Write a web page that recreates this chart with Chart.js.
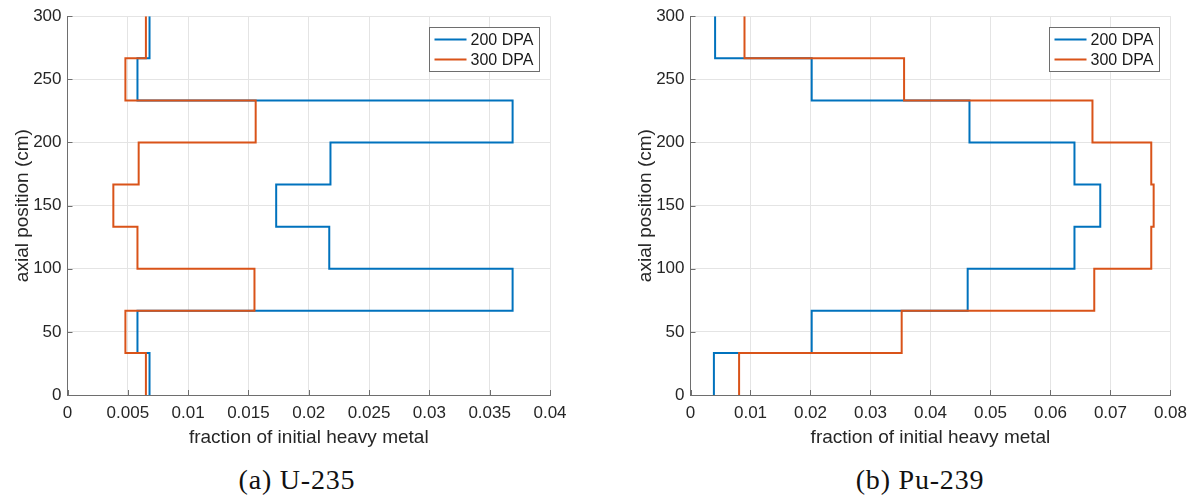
<!DOCTYPE html>
<html>
<head>
<meta charset="utf-8">
<script src="https://cdn.jsdelivr.net/npm/chart.js@4/dist/chart.umd.min.js"></script>
<style>
  body { margin: 0; background: #fff; width: 1195px; height: 498px; overflow: hidden; position: relative; }
  .panel { position: absolute; top: 0; height: 460px; }
  .caption {
    position: absolute; top: 463px; width: 240px; height: 34px; line-height: 34px;
    text-align: center; font-family: "Liberation Serif", "DejaVu Serif", serif;
    font-size: 28px; letter-spacing: 0.8px; color: #111;
  }
</style>
</head>
<body>
<div class="panel" style="left:0;width:600px"><canvas id="u235"></canvas></div>
<div class="panel" style="left:600px;width:595px"><canvas id="pu239"></canvas></div>
<div class="caption" style="left:177px">(a) U-235</div>
<div class="caption" style="left:800px">(b) Pu-239</div>

<script>
// zone boundaries along the core (cm), 9 axial zones
const zoneEdges = [0, 33.3, 66.7, 100, 133.3, 166.7, 200, 233.3, 266.7, 300]

// U-235 fraction per zone, bottom to top
const u235_200 = [0.0068, 0.0058, 0.0369, 0.0217, 0.0173, 0.0218, 0.0369, 0.0058, 0.0068]
const u235_300 = [0.0065, 0.0048, 0.0155, 0.0058, 0.0038, 0.0059, 0.0156, 0.0048, 0.0065]

// Pu-239 fraction per zone, bottom to top
const pu239_200 = [0.0039, 0.0202, 0.0462, 0.0640, 0.0683, 0.0640, 0.0465, 0.0202, 0.0041]
const pu239_300 = [0.0081, 0.0352, 0.0673, 0.0768, 0.0772, 0.0768, 0.0670, 0.0356, 0.0090]

const seriesLabels = ['200 DPA', '300 DPA']
const u235Ticks = { max: 0.04, step: 0.005 }
const pu239Ticks = { max: 0.08, step: 0.01 }

const BLUE = '#0072BD'
const ORANGE = '#D95319'
const SANS = '"Liberation Sans", Arial, Helvetica, sans-serif'

// turn per-zone values into a vertical staircase
function profile(values) {
  let pts = []
  values.forEach((v, i) => {
    pts.push({x: v, y: zoneEdges[i]})
    pts.push({x: v, y: zoneEdges[i + 1]})
  })
  return pts
}

// inward tick marks on left + bottom axes
const innerTicks = {
  id: 'innerTicks',
  afterDatasetsDraw(chart) {
    const {ctx, chartArea, scales} = chart
    ctx.save()
    ctx.strokeStyle = '#6e6e6e'
    ctx.lineWidth = 1
    ctx.beginPath()
    scales.x.ticks.forEach(t => {
      const px = Math.round(scales.x.getPixelForValue(t.value)) + 0.5
      ctx.moveTo(px, chartArea.bottom)
      ctx.lineTo(px, chartArea.bottom - 5)
    })
    scales.y.ticks.forEach(t => {
      const py = Math.round(scales.y.getPixelForValue(t.value)) + 0.5
      ctx.moveTo(chartArea.left, py)
      ctx.lineTo(chartArea.left + 5, py)
    })
    ctx.stroke()
    ctx.restore()
  }
}

// boxed legend in the upper right corner of the axes
const boxLegend = {
  id: 'boxLegend',
  afterDraw(chart) {
    const {ctx, chartArea} = chart
    const w = 110, h = 44
    const x = Math.round(chartArea.right - 11 - w) + 0.5
    const y = Math.round(chartArea.top + 11) + 0.5
    ctx.save()
    ctx.fillStyle = '#fff'
    ctx.fillRect(x, y, w, h)
    ctx.strokeStyle = '#6e6e6e'
    ctx.lineWidth = 1
    ctx.strokeRect(x, y, w, h)
    ctx.font = '16px ' + SANS
    ctx.textBaseline = 'middle'
    chart.data.datasets.forEach((ds, i) => {
      const ly = y + 12 + i * 20
      ctx.strokeStyle = ds.borderColor
      ctx.lineWidth = 2
      ctx.beginPath()
      ctx.moveTo(x + 5, ly)
      ctx.lineTo(x + 37, ly)
      ctx.stroke()
      ctx.fillStyle = '#1a1a1a'
      ctx.fillText(ds.label, x + 41, ly + 1)
    })
    ctx.restore()
  }
}

function makeChart(id, v200, v300, xTicks, padLeft, padRight) {
  return new Chart(document.getElementById(id), {
    type: 'scatter',
    data: {
      datasets: [
        {label: seriesLabels[0], data: profile(v200), borderColor: BLUE, order: 1},
        {label: seriesLabels[1], data: profile(v300), borderColor: ORANGE, order: 0}
      ]
    },
    options: {
      responsive: true,
      maintainAspectRatio: false,
      animation: false,
      showLine: true,
      layout: { padding: {left: padLeft, right: padRight, top: 14, bottom: 0} },
      elements: {
        point: { radius: 0, hoverRadius: 0 },
        line: { borderWidth: 2, tension: 0, fill: false, borderJoinStyle: 'miter' }
      },
      plugins: { legend: {display: false}, tooltip: {enabled: false} },
      scales: {
        x: {
          type: 'linear', min: 0, max: xTicks.max,
          afterFit: s => { s.height = 65 },
          grid: { color: '#e4e4e4', drawTicks: false },
          border: { color: '#6e6e6e' },
          ticks: {
            stepSize: xTicks.step, padding: 8, color: '#262626',
            font: {family: SANS, size: 17},
            callback: v => String(+v.toFixed(4))
          },
          title: {
            display: true, text: 'fraction of initial heavy metal', color: '#262626',
            font: {family: SANS, size: 19}, padding: {top: 0, bottom: 11}
          }
        },
        y: {
          type: 'linear', min: 0, max: 300,
          afterFit: s => { s.width = 67.5 },
          grid: { color: '#e4e4e4', drawTicks: false },
          border: { color: '#6e6e6e' },
          ticks: {
            stepSize: 50, padding: 6, color: '#262626',
            font: {family: SANS, size: 17}
          },
          title: {
            display: true, text: 'axial position (cm)', color: '#262626',
            font: {family: SANS, size: 19}, padding: {top: 11, bottom: 0}
          }
        }
      }
    },
    plugins: [innerTicks, boxLegend]
  })
}

makeChart('u235', u235_200, u235_300, u235Ticks, 0, 50)
makeChart('pu239', pu239_200, pu239_300, pu239Ticks, 23, 22)
</script>
</body>
</html>
